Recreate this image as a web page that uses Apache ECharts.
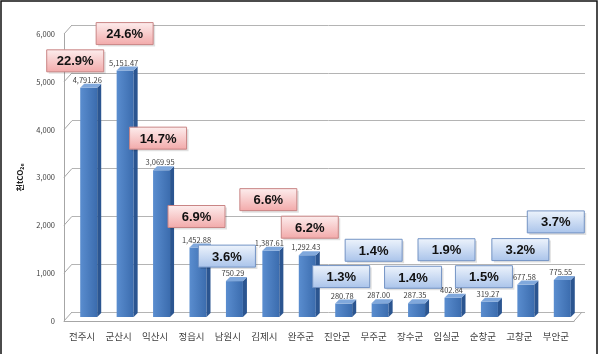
<!DOCTYPE html>
<html lang="ko">
<head>
<meta charset="UTF-8">
<title>시군별 배출량</title>
<script src="https://cdn.jsdelivr.net/npm/echarts@6/dist/echarts.min.js"></script>
<style>
  html, body { margin: 0; padding: 0; background: #fff; }
  #chart { width: 600px; height: 354px; }
</style>
</head>
<body>
<div id="chart"></div>
<script>
// 데이터
var regions = ['전주시', '군산시', '익산시', '정읍시', '남원시', '김제시', '완주군',
               '진안군', '무주군', '장수군', '임실군', '순창군', '고창군', '부안군'];
var emissions = [4791.26, 5151.47, 3069.95, 1452.88, 750.29, 1387.61, 1292.43,
                 280.78, 287.00, 287.35, 402.84, 319.27, 677.58, 775.55];
var shares = [22.9, 24.6, 14.7, 6.9, 3.6, 6.6, 6.2, 1.3, 1.4, 1.4, 1.9, 1.5, 3.2, 3.7];
var yTicks = [0, 1000, 2000, 3000, 4000, 5000, 6000];

// 말풍선 위치 (막대 윗면 기준 px)
var calloutDx = [-7, 6, 3, 5, -1, 4, 9, 4, 0, 3, 0, 1, 1, 0];
var calloutDy = [-27, -37, -32, -31, -25, -51, -28, -27, -53, -26, -48, -25, -35, -58];

var FONT = '"Noto Sans CJK KR", "Noto Sans", sans-serif';

var chart = echarts.init(document.getElementById('chart'));

function fmt(v) {
    return v.toLocaleString('en-US', { minimumFractionDigits: 2, maximumFractionDigits: 2 });
}

// 3D 막대
function renderBar(params, api) {
    var i = api.value(0), v = api.value(1);
    var base = api.coord([i, 0]);
    var top = api.coord([i, v]);
    var w = 17, d = 4;
    var x0 = base[0] - 2, x1 = x0 + w;
    var yt = top[1] - 4, yb = base[1] - 4;
    return {
        type: 'group',
        children: [
            { type: 'rect', shape: { x: x0, y: yt, width: w, height: yb - yt },
              style: { fill: new echarts.graphic.LinearGradient(0, 0, 1, 0, [
                  { offset: 0, color: '#5a8dcf' }, { offset: 1, color: '#3b6cae' }]) } },
            { type: 'polygon', shape: { points: [[x1, yt], [x1 + d, yt - d], [x1 + d, yb - d], [x1, yb]] },
              style: { fill: '#2b5590' } },
            { type: 'polygon', shape: { points: [[x0, yt], [x0 + d, yt - d], [x1 + d, yt - d], [x1, yt]] },
              style: { fill: '#80a8dc' } },
            { type: 'text', x: base[0] + 5, y: yt - 4,
              style: { text: fmt(v), fill: '#404040', font: '7.5px ' + FONT,
                       align: 'center', verticalAlign: 'bottom' } }
        ]
    };
}

// 비율 말풍선
function renderCallout(params, api) {
    var i = params.dataIndex;
    var v = api.value(1);
    var base = api.coord([i, 0]);
    var top = api.coord([i, v]);
    var cx = base[0] + calloutDx[i];
    var cy = top[1] - 4 + calloutDy[i];
    var red = shares[i] >= 5;
    var w = 57, h = 22;
    return {
        type: 'group',
        children: [
            { type: 'rect', shape: { x: cx - w / 2 + 2, y: cy - h / 2 + 2, width: w, height: h },
              style: { fill: 'rgba(0,0,0,0.12)' } },
            { type: 'rect', shape: { x: cx - w / 2, y: cy - h / 2, width: w, height: h },
              style: {
                  fill: new echarts.graphic.LinearGradient(0, 0, 0, 1, red ? [
                      { offset: 0, color: '#fdeeee' }, { offset: 1, color: '#f2a9a9' }] : [
                      { offset: 0, color: '#eef4fc' }, { offset: 1, color: '#a9c3ea' }]),
                  stroke: red ? '#c98585' : '#7393c4', lineWidth: 1
              } },
            { type: 'text', x: cx, y: cy + 1,
              style: { text: shares[i].toFixed(1) + '%', fill: '#111',
                       font: 'bold 13px "Liberation Sans", Arial, sans-serif',
                       align: 'center', verticalAlign: 'middle' } }
        ]
    };
}

// 왼쪽 벽 사선
function renderFrame(params, api) {
    var cs = params.coordSys;
    var y = api.coord([0, api.value(1)])[1];
    var children = [{ type: 'line', shape: { x1: cs.x, y1: y, x2: cs.x + 8, y2: y - 9 },
                      style: { stroke: '#a6a6a6', lineWidth: 1 } }];
    if (api.value(1) === 0) {
        children.push({ type: 'line',
            shape: { x1: cs.x + cs.width, y1: y, x2: cs.x + cs.width + 8, y2: y - 9 },
            style: { stroke: '#a6a6a6', lineWidth: 1 } });
    }
    return { type: 'group', children: children };
}

var option = {
    backgroundColor: '#fff',
    animation: false,
    grid: [
        { left: 64, right: 26, top: 34, bottom: 33 },
        { left: 72, right: 15, top: 25, bottom: 42 }
    ],
    xAxis: [
        { type: 'category', gridIndex: 0, data: regions,
          axisLine: { lineStyle: { color: '#a6a6a6' } },
          axisTick: { interval: 0, length: 3, lineStyle: { color: '#a6a6a6' } },
          axisLabel: { interval: 0, margin: 11, color: '#404040', fontSize: 9.5, fontFamily: FONT } },
        { type: 'category', gridIndex: 1, data: regions, show: false }
    ],
    yAxis: [
        { type: 'value', gridIndex: 0, min: 0, max: 6000, interval: 1000,
          name: '천tCO₂ₑ', nameLocation: 'middle', nameGap: 40, nameRotate: 90,
          nameTextStyle: { color: '#222', fontSize: 8, fontWeight: 'bold', fontFamily: FONT },
          axisLine: { show: true, lineStyle: { color: '#a6a6a6' } },
          axisTick: { show: false },
          splitLine: { show: false },
          axisLabel: { margin: 9, color: '#404040', fontSize: 7.5, fontFamily: FONT,
                       formatter: function (v) { return v.toLocaleString('en-US'); } } },
        { type: 'value', gridIndex: 1, min: 0, max: 6000, interval: 1000,
          axisLine: { show: false }, axisTick: { show: false }, axisLabel: { show: false },
          splitLine: { lineStyle: { color: '#b4b4b4', width: 1 } } }
    ],
    series: [
        { type: 'custom', name: 'frame', xAxisIndex: 0, yAxisIndex: 0,
          renderItem: renderFrame, silent: true,
          data: yTicks.map(function (v) { return [0, v]; }) },
        { type: 'custom', name: '배출량', xAxisIndex: 0, yAxisIndex: 0,
          renderItem: renderBar,
          data: emissions.map(function (v, i) { return [i, v]; }) },
        { type: 'custom', name: '비율', xAxisIndex: 0, yAxisIndex: 0,
          renderItem: renderCallout, z: 5,
          data: emissions.map(function (v, i) { return [i, v]; }) }
    ],
    graphic: [
        { type: 'rect', shape: { x: 1, y: 1, width: 596, height: 360 },
          style: { fill: 'none', stroke: '#111', lineWidth: 1.5 }, silent: true }
    ]
};

chart.setOption(option);
</script>
</body>
</html>
